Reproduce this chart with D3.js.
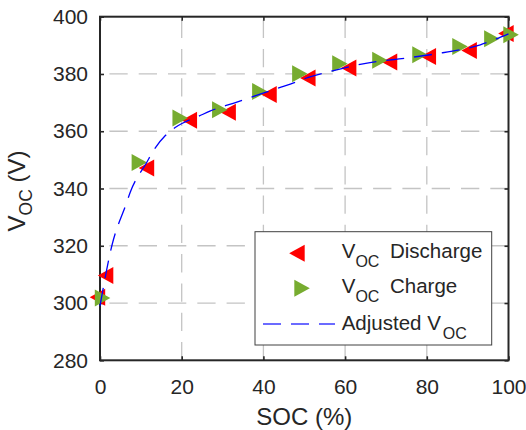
<!DOCTYPE html>
<html>
<head>
<meta charset="utf-8">
<script src="https://cdn.jsdelivr.net/npm/d3@7"></script>
<style>
  html, body { margin: 0; padding: 0; background: #ffffff; }
  svg { display: block; font-family: "Liberation Sans", Arial, Helvetica, sans-serif; }
</style>
</head>
<body>
<svg id="chart" width="526" height="430"></svg>
<script>
// Open-circuit voltage of the pack versus state of charge

const socTicks = [0, 20, 40, 60, 80, 100];
const vocTicks = [280, 300, 320, 340, 360, 380, 400];

// Measured V_OC while discharging
const dischargeSoc = [0, 2, 12, 22.5, 32, 42, 51.5, 61.5, 71.5, 81, 91, 100];
const dischargeVoc = [302, 309.6, 347.2, 363.8, 366.6, 372.8, 378.6, 382.1, 384.2, 386.1, 388.2, 394.1];

// Measured V_OC while charging
const chargeSoc = [0, 9, 19, 28.7, 38.5, 48.3, 58.1, 67.9, 77.7, 87.5, 95.3, 100];
const chargeVoc = [301.8, 349.1, 364.6, 367.5, 373.9, 380.1, 383.6, 384.8, 386.7, 389.6, 392.3, 393.7];

// Adjusted (fitted) V_OC curve
const fitSoc = [0, 2.9, 6.5, 7.4, 11.4, 13.1, 16, 18.4, 20.2, 24.1, 26.9, 33.5, 44.5, 47.4, 51, 56.4, 65.4, 75.2, 82.1, 93.1, 100];
const fitVoc = [299, 320, 335, 338.7, 349, 353.3, 358.5, 361.3, 362.8, 365.2, 367, 370.2, 375.5, 376.9, 378.8, 380.9, 383.8, 385.6, 387, 390.2, 394];

const legendLabels = ["Discharge", "Charge", "Adjusted V"];

const svg = d3.select("#chart");
const ink = "#262626";

const plotLeft = 100, plotRight = 508.5, plotTop = 16.7, plotBottom = 360.3;
const x = d3.scaleLinear().domain([0, 100]).range([plotLeft, plotRight]);
const y = d3.scaleLinear().domain([280, 400]).range([plotBottom, plotTop]);

// Grid
const grid = svg.append("g")
  .attr("stroke", "#c4c4c4")
  .attr("stroke-width", 1.3)
  .attr("fill", "none")
  .attr("stroke-dasharray", "18.3,11");

grid.selectAll("path.vgrid")
  .data(socTicks.filter(d => d > 0 && d < 100))
  .join("path")
  .attr("class", "vgrid")
  .attr("d", d => `M${x(d)},${plotBottom}V${plotTop}`);

grid.selectAll("path.hgrid")
  .data(vocTicks.filter(d => d > 280 && d < 400))
  .join("path")
  .attr("class", "hgrid")
  .attr("stroke-dashoffset", -9.4)
  .attr("d", d => `M${plotLeft},${y(d)}H${plotRight}`);

// Axes with inward ticks on all four sides
function styleAxis(g) {
  g.select(".domain").remove();
  g.selectAll(".tick line").attr("stroke", ink).attr("stroke-width", 1.6);
  g.selectAll(".tick text")
    .attr("fill", ink)
    .attr("font-size", 21)
    .attr("font-family", "Liberation Sans, Arial, Helvetica, sans-serif");
}

svg.append("g")
  .attr("transform", `translate(0,${plotBottom})`)
  .call(d3.axisBottom(x).tickValues(socTicks).tickSize(-4).tickPadding(19).tickFormat(d3.format("d")))
  .call(styleAxis);

svg.append("g")
  .attr("transform", `translate(${plotLeft},0)`)
  .call(d3.axisLeft(y).tickValues(vocTicks).tickSize(-4).tickPadding(12).tickFormat(d3.format("d")))
  .call(styleAxis);

svg.append("g")
  .attr("transform", `translate(0,${plotTop})`)
  .call(d3.axisTop(x).tickValues(socTicks).tickSize(-4).tickFormat(""))
  .call(styleAxis);

svg.append("g")
  .attr("transform", `translate(${plotRight},0)`)
  .call(d3.axisRight(y).tickValues(vocTicks).tickSize(-4).tickFormat(""))
  .call(styleAxis);

svg.append("rect")
  .attr("x", plotLeft).attr("y", plotTop)
  .attr("width", plotRight - plotLeft).attr("height", plotBottom - plotTop)
  .attr("fill", "none").attr("stroke", ink).attr("stroke-width", 2);

// Axis titles
svg.append("text")
  .attr("x", (plotLeft + plotRight) / 2).attr("y", 425)
  .attr("text-anchor", "middle")
  .attr("font-size", 24)
  .attr("fill", ink)
  .text("SOC (%)");

const yTitle = svg.append("text")
  .attr("transform", "translate(24.5,191) rotate(-90)")
  .attr("text-anchor", "middle")
  .attr("font-size", 24)
  .attr("fill", ink);
yTitle.append("tspan").text("V");
yTitle.append("tspan").attr("font-size", 17.5).attr("dy", 7).text("OC");
yTitle.append("tspan").attr("dy", -7).text(" (V)");

// Triangle markers, centred on their centroid
function triangle(dir, cx, cy, w, h) {
  if (dir === "left") {
    return `M${cx - 2 * w / 3},${cy}L${cx + w / 3},${cy - h / 2}L${cx + w / 3},${cy + h / 2}Z`;
  }
  return `M${cx + 2 * w / 3},${cy}L${cx - w / 3},${cy - h / 2}L${cx - w / 3},${cy + h / 2}Z`;
}
const mw = 15.5, mh = 17;
const red = "#ff0000", green = "#77ac30", blue = "#0000ff";

svg.append("g").selectAll("path")
  .data(d3.range(dischargeSoc.length))
  .join("path")
  .attr("d", i => triangle("left", x(dischargeSoc[i]), y(dischargeVoc[i]), mw, mh))
  .attr("fill", red);

svg.append("g").selectAll("path")
  .data(d3.range(chargeSoc.length))
  .join("path")
  .attr("d", i => triangle("right", x(chargeSoc[i]), y(chargeVoc[i]), mw, mh))
  .attr("fill", green);

// Fitted curve
const fitLine = d3.line()
  .x(i => x(fitSoc[i]))
  .y(i => y(fitVoc[i]))
  .curve(d3.curveMonotoneX);

svg.append("path")
  .datum(d3.range(fitSoc.length))
  .attr("d", fitLine)
  .attr("fill", "none")
  .attr("stroke", blue)
  .attr("stroke-width", 1.3)
  .attr("stroke-dasharray", "18,10");

// Legend
const lg = svg.append("g");
lg.append("rect")
  .attr("x", 255).attr("y", 231.7)
  .attr("width", 236.7).attr("height", 113.3)
  .attr("fill", "#ffffff").attr("stroke", "#404040").attr("stroke-width", 1);

lg.append("path").attr("d", triangle("left", 299.5, 253.3, mw, mh)).attr("fill", red);
lg.append("path").attr("d", triangle("right", 299.5, 288.3, mw, mh)).attr("fill", green);
lg.append("path").attr("d", "M263,324H335")
  .attr("stroke", "#3b3bff").attr("stroke-width", 1.3).attr("stroke-dasharray", "18,10");

const rowBase = [258.3, 293, 330];
[0, 1].forEach(k => {
  const t = lg.append("text").attr("x", 341.7).attr("y", rowBase[k])
    .attr("font-size", 20.5).attr("fill", ink);
  t.append("tspan").text("V");
  t.append("tspan").attr("font-size", 16).attr("dy", 8.5).text("OC");
  t.append("tspan").attr("x", 390).attr("dy", -8.5).text(legendLabels[k]);
});
const t3 = lg.append("text").attr("x", 341.7).attr("y", rowBase[2])
  .attr("font-size", 20.5).attr("fill", ink);
t3.append("tspan").text(legendLabels[2]);
t3.append("tspan").attr("font-size", 16).attr("dy", 8.5).attr("dx", 2).text("OC");
</script>
</body>
</html>
